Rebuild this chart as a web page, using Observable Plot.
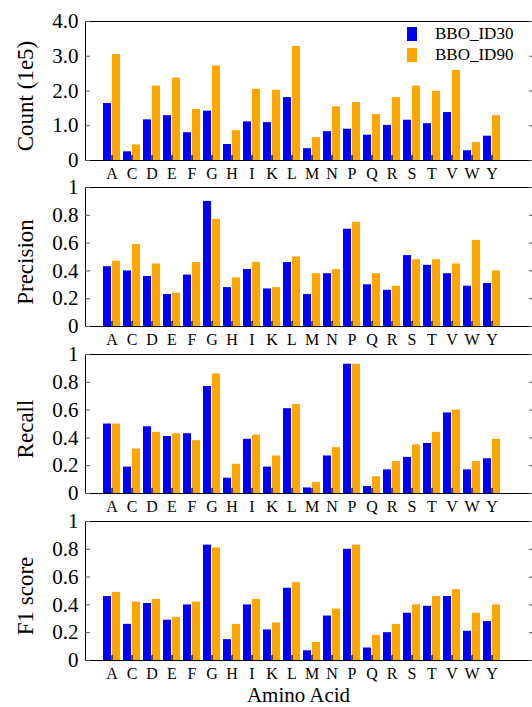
<!DOCTYPE html>
<html><head><meta charset="utf-8">
<script src="https://cdn.jsdelivr.net/npm/d3@7"></script>
<script src="https://cdn.jsdelivr.net/npm/@observablehq/plot@0.6"></script>
<style>
html,body{margin:0;padding:0;background:#fff;overflow:hidden;}
#chart{position:relative;width:532px;height:707px;overflow:hidden;font-family:"Liberation Serif",serif;}
.panel{position:absolute;left:0;}
.lg-swatches{position:absolute!important;left:407px!important;top:27px!important;display:flex!important;flex-direction:column!important;gap:7px!important;font-family:"Liberation Serif",serif!important;font-size:17px!important;color:#000!important;margin:0!important;min-height:0!important;}
.lg-swatch{display:flex!important;align-items:center!important;height:14px!important;margin:0!important;font-family:"Liberation Serif",serif!important;font-size:17px!important;}
.lg-swatch svg{margin-right:18px!important;}
</style></head>
<body><div id="chart"></div>
<script>
const aminoAcids = ["A","C","D","E","F","G","H","I","K","L","M","N","P","Q","R","S","T","V","W","Y"];
const seriesNames = ["BBO_ID30","BBO_ID90"];
const seriesColors = ["#0000ff","#ffa500"];

const count30 = [1.64,0.25,1.17,1.29,0.80,1.42,0.46,1.11,1.09,1.81,0.34,0.83,0.90,0.73,1.01,1.16,1.06,1.38,0.28,0.70];
const count90 = [3.05,0.45,2.14,2.37,1.47,2.72,0.86,2.05,2.02,3.28,0.66,1.54,1.67,1.32,1.81,2.14,1.99,2.59,0.52,1.29];
const precision30 = [0.43,0.40,0.36,0.23,0.37,0.90,0.28,0.41,0.27,0.46,0.23,0.38,0.70,0.30,0.26,0.51,0.44,0.38,0.29,0.31];
const precision90 = [0.47,0.59,0.45,0.24,0.46,0.77,0.35,0.46,0.28,0.50,0.38,0.41,0.75,0.38,0.29,0.48,0.48,0.45,0.62,0.40];
const recall30 = [0.50,0.19,0.48,0.41,0.43,0.77,0.11,0.39,0.19,0.61,0.04,0.27,0.93,0.05,0.17,0.26,0.36,0.58,0.17,0.25];
const recall90 = [0.50,0.32,0.44,0.43,0.38,0.86,0.21,0.42,0.27,0.64,0.08,0.33,0.93,0.12,0.23,0.35,0.44,0.60,0.23,0.39];
const f1_30 = [0.46,0.26,0.41,0.29,0.40,0.83,0.15,0.40,0.22,0.52,0.07,0.32,0.80,0.09,0.20,0.34,0.39,0.46,0.21,0.28];
const f1_90 = [0.49,0.42,0.44,0.31,0.42,0.81,0.26,0.44,0.27,0.56,0.13,0.37,0.83,0.18,0.26,0.40,0.46,0.51,0.34,0.40];

const countTicks = [0,1,2,3,4];
const countTickLabels = ["0","1.0","2.0","3.0","4.0"];
const scoreTicks = [0,0.2,0.4,0.6,0.8,1];
const scoreTickLabels = ["0","0.2","0.4","0.6","0.8","1"];
const yTitles = ["Count (1e5)","Precision","Recall","F1 score"];
const xTitle = "Amino Acid";

const FONT = "Liberation Serif, serif";

function rows(a, b) {
  return aminoAcids.flatMap((aa, i) => [
    {aa, series: seriesNames[0], value: a[i]},
    {aa, series: seriesNames[1], value: b[i]}
  ]);
}

const panels = [
  {title: yTitles[0], data: rows(count30, count90), domain: [0,4], ticks: countTicks, labels: countTickLabels},
  {title: yTitles[1], data: rows(precision30, precision90), domain: [0,1], ticks: scoreTicks, labels: scoreTickLabels},
  {title: yTitles[2], data: rows(recall30, recall90), domain: [0,1], ticks: scoreTicks, labels: scoreTickLabels},
  {title: yTitles[3], data: rows(f1_30, f1_90), domain: [0,1], ticks: scoreTicks, labels: scoreTickLabels}
];
const frameTops = [21, 187, 354, 521];
const chart = document.getElementById("chart");
const colorSpec = {domain: seriesNames, range: seriesColors};

panels.forEach((p, k) => {
  const last = k === panels.length - 1;
  const marks = [
    Plot.barY(p.data.filter(d => d.series === seriesNames[0]), {x: "aa", y: "value", fill: "series", insetRight: 9}),
    Plot.barY(p.data.filter(d => d.series === seriesNames[1]), {x: "aa", y: "value", fill: "series", insetLeft: 9}),
    Plot.frame({stroke: "#000"}),
    Plot.axisX({tickSize: -5, tickPadding: 12, fontSize: 16, fontFamily: FONT, label: null, stroke: "#222", strokeWidth: 1.5, fill: "#000"}),
    Plot.axisY({ticks: p.ticks, tickFormat: d => p.labels[p.ticks.indexOf(d)], tickSize: -5, tickPadding: 12, fontSize: 21, fontFamily: FONT, label: null, stroke: "#555", fill: "#000"}),
    Plot.axisY({anchor: "right", ticks: p.ticks, tickFormat: () => "", tickSize: -5, label: null, stroke: "#555"}),
    Plot.text([p.title], {frameAnchor: "left", rotate: -90, dx: -60, dy: 5, fontSize: 23, fontFamily: FONT, lineAnchor: "middle", textAnchor: "middle", fill: "#000"})
  ];
  if (last) marks.push(Plot.text([xTitle], {frameAnchor: "bottom", dy: 35, dx: -11, fontSize: 21, fontFamily: FONT, lineAnchor: "middle", fill: "#000"}));
  const plot = Plot.plot({
    width: 533,
    height: 198,
    marginTop: 12,
    marginBottom: 47,
    marginLeft: 85,
    marginRight: 0,
    style: {fontFamily: FONT, fontSize: "16px", background: "transparent", maxWidth: "none", overflow: "visible", color: "#000"},
    x: {domain: aminoAcids, paddingInner: 0.14, paddingOuter: 0.755, align: 0.356},
    y: {domain: p.domain},
    color: colorSpec,
    marks
  });
  const wrap = document.createElement("div");
  wrap.className = "panel";
  wrap.style.top = (frameTops[k] - 12) + "px";
  wrap.appendChild(plot);
  chart.appendChild(wrap);
});

const legend = Plot.legend({color: {...colorSpec, type: "ordinal"}, legend: "swatches", swatchWidth: 10, swatchHeight: 14, className: "lg"});
chart.appendChild(legend);
</script></body></html>
